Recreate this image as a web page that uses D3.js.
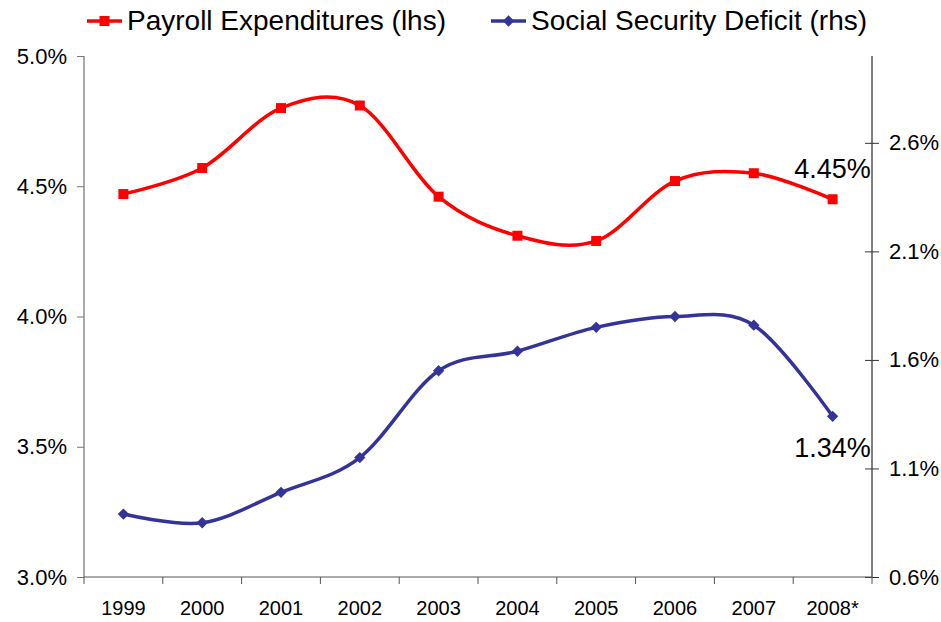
<!DOCTYPE html>
<html>
<head>
<meta charset="utf-8">
<script src="https://cdn.jsdelivr.net/npm/d3@7"></script>
<style>
  html, body { margin: 0; padding: 0; background: #fff; }
  svg { display: block; font-family: "Liberation Sans", Arial, sans-serif; }
</style>
</head>
<body>
<svg id="chart" width="941" height="622"></svg>
<script>
// Data
const years = ["1999", "2000", "2001", "2002", "2003", "2004", "2005", "2006", "2007", "2008*"];
const payroll = [4.47, 4.57, 4.80, 4.81, 4.46, 4.31, 4.29, 4.52, 4.55, 4.45];      // % (left axis)
const ssDeficit = [0.89, 0.85, 0.99, 1.15, 1.55, 1.64, 1.75, 1.80, 1.76, 1.34];    // % (right axis)
const leftTicks = [3.0, 3.5, 4.0, 4.5, 5.0];
const rightTicks = [0.6, 1.1, 1.6, 2.1, 2.6];
const seriesNames = ["Payroll Expenditures (lhs)", "Social Security Deficit (rhs)"];

const svg = d3.select("#chart");
const m = { left: 84, right: 872, top: 56, bottom: 577 };

const x = d3.scaleBand().domain(years).range([m.left, m.right]);
const yL = d3.scaleLinear().domain([3.0, 5.0]).range([m.bottom, m.top]);
const yR = d3.scaleLinear().domain([0.6, 3.0]).range([m.bottom, m.top]);
const cx = d => x(d) + x.bandwidth() / 2;

const red = "#FF0000", blue = "#333399";

// Left axis
const gL = svg.append("g").attr("transform", `translate(${m.left},0)`)
  .call(d3.axisLeft(yL).tickValues(leftTicks).tickSize(7).tickPadding(10)
    .tickFormat(d => d.toFixed(1) + "%"));
gL.select(".domain").attr("stroke", "#555").attr("d", `M0,${m.bottom}V${m.top}`);
gL.selectAll(".tick line").attr("stroke", "#777");
gL.selectAll("text").attr("font-size", 22).attr("fill", "#000");

// Right axis (ticks cross the line)
const gR = svg.append("g").attr("transform", `translate(${m.right},0)`)
  .call(d3.axisRight(yR).tickValues(rightTicks).tickSize(7).tickPadding(10)
    .tickFormat(d => d.toFixed(1) + "%"));
gR.select(".domain").attr("stroke", "#000").attr("d", `M0,${m.bottom}V${m.top}`);
gR.selectAll(".tick line").attr("stroke", "#333").attr("x1", -7).attr("x2", 7);
gR.selectAll("text").attr("font-size", 22).attr("fill", "#000");

// Bottom axis: ticks at category boundaries
const gB = svg.append("g").attr("transform", `translate(0,${m.bottom})`);
gB.append("line").attr("x1", m.left).attr("x2", m.right).attr("stroke", "#555");
const bounds = years.map(d => x(d)).concat([x(years[years.length - 1]) + x.bandwidth()]);
gB.selectAll(".bt").data(bounds).join("line")
  .attr("x1", d => d).attr("x2", d => d).attr("y1", 0).attr("y2", 7).attr("stroke", "#555");
gB.selectAll(".bl").data(years).join("text")
  .attr("x", d => cx(d)).attr("y", 38).attr("text-anchor", "middle")
  .attr("font-size", 20).attr("fill", "#000").text(d => d);

// Smoothed lines
const curve = d3.curveCardinal.tension(0);
const lineL = d3.line().x((d, i) => cx(years[i])).y(d => yL(d)).curve(curve);
const lineR = d3.line().x((d, i) => cx(years[i])).y(d => yR(d)).curve(curve);

svg.append("path").datum(payroll).attr("d", lineL)
  .attr("fill", "none").attr("stroke", red).attr("stroke-width", 3.5);
svg.append("path").datum(ssDeficit).attr("d", lineR)
  .attr("fill", "none").attr("stroke", blue).attr("stroke-width", 3.5);

// Markers: squares for payroll, diamonds for the deficit
svg.selectAll(".sq").data(payroll).join("rect")
  .attr("x", (d, i) => cx(years[i]) - 5).attr("y", d => yL(d) - 5)
  .attr("width", 10).attr("height", 10).attr("fill", red);
const diamondPath = d3.symbol().type(d3.symbolSquare).size(64)();
svg.selectAll(".dm").data(ssDeficit).join("path")
  .attr("d", diamondPath)
  .attr("transform", (d, i) => `translate(${cx(years[i])},${yR(d)}) rotate(45)`)
  .attr("fill", blue);

// End-point value labels
const last = years.length - 1;
svg.append("text").attr("x", cx(years[last])).attr("y", yL(payroll[last]) - 21)
  .attr("text-anchor", "middle").attr("font-size", 27).attr("fill", "#000")
  .text(payroll[last].toFixed(2) + "%");
svg.append("text").attr("x", cx(years[last])).attr("y", yR(ssDeficit[last]) + 41)
  .attr("text-anchor", "middle").attr("font-size", 27).attr("fill", "#000")
  .text(ssDeficit[last].toFixed(2) + "%");

// Legend
const legend = [
  { name: seriesNames[0], color: red, x: 87, shape: "square" },
  { name: seriesNames[1], color: blue, x: 491, shape: "diamond" }
];
const lg = svg.selectAll(".lg").data(legend).join("g")
  .attr("transform", d => `translate(${d.x},21)`);
lg.append("line").attr("x1", 0).attr("x2", 35).attr("stroke", d => d.color).attr("stroke-width", 3.5);
lg.filter(d => d.shape === "square").append("rect")
  .attr("x", 12.5).attr("y", -5).attr("width", 10).attr("height", 10).attr("fill", d => d.color);
lg.filter(d => d.shape === "diamond").append("path")
  .attr("d", diamondPath)
  .attr("transform", "translate(17.5,0) rotate(45)").attr("fill", d => d.color);
lg.append("text").attr("x", 40).attr("y", 9).attr("font-size", 28).attr("fill", "#000")
  .text(d => d.name);
</script>
</body>
</html>
